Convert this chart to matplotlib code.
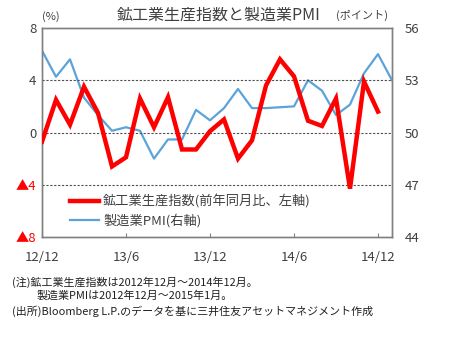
import matplotlib
matplotlib.use("Agg")
import matplotlib.pyplot as plt

plt.rcParams['font.family'] = ['Noto Sans CJK JP', 'DejaVu Sans']

# Monthly data, Dec 2012 onwards
months = list(range(26))
tick_pos = [0, 6, 12, 18, 24]
tick_labels = ["12/12", "13/6", "13/12", "14/6", "14/12"]

# Industrial production, y/y % (Dec 2012 - Dec 2014)
ip_yoy = [-0.7, 2.5, 0.6, 3.5, 1.5, -2.6, -1.9, 2.6, 0.4, 2.7, -1.3, -1.3,
          0.1, 1.0, -2.0, -0.6, 3.6, 5.6, 4.3, 0.9, 0.5, 2.6, -4.3, 3.9, 1.6]
# Manufacturing PMI, points (Dec 2012 - Jan 2015)
pmi = [54.7, 53.2, 54.2, 52.0, 51.0, 50.1, 50.3, 50.1, 48.5, 49.6, 49.6, 51.3,
       50.7, 51.4, 52.5, 51.4, 51.4, 51.45, 51.5, 53.0, 52.4, 51.0, 51.6, 53.4,
       54.5, 53.0]

left_ticks = [8, 4, 0, -4, -8]
left_tick_labels = ["8", "4", "0", "▲4", "▲8"]
right_ticks = [56, 53, 50, 47, 44]

txt = "#404040"
fig = plt.figure(figsize=(4.5, 3.37), dpi=100)
ax = fig.add_axes([42/450, 100/337, 350/450, 209/337])
ax2 = ax.twinx()

ax.set_xlim(0, 25)
ax.set_ylim(-8, 8)
ax2.set_ylim(44, 56)

for y in [4, 0, -4]:
    ax.axhline(y, color="#505050", lw=0.8, ls=(0, (2, 1.5)), zorder=1)

l1, = ax.plot(months[:len(ip_yoy)], ip_yoy, color="#ff0000", lw=3.2,
              solid_joinstyle="miter", zorder=3, label="鉱工業生産指数(前年同月比、左軸)")
l2, = ax2.plot(months[:len(pmi)], pmi, color="#5ba3da", lw=1.6, zorder=2,
               label="製造業PMI(右軸)")
ax.set_zorder(ax2.get_zorder() + 1)
ax.patch.set_visible(False)

ax.set_yticks(left_ticks)
ax.set_yticklabels(left_tick_labels, fontsize=9.5)
for lab, v in zip(ax.get_yticklabels(), left_ticks):
    lab.set_color("#ff0000" if v < 0 else txt)
ax.tick_params(axis="y", length=0, pad=4)

ax2.set_yticks(right_ticks)
ax2.set_yticklabels([str(v) for v in right_ticks], fontsize=9.5, color=txt)
ax2.tick_params(axis="y", length=0, pad=9)

ax.set_xticks(tick_pos)
ax.set_xticklabels(tick_labels, fontsize=9.5, color=txt)
ax.tick_params(axis="x", direction="in", length=3, color="#808080", pad=10)

for a in (ax, ax2):
    for s in a.spines.values():
        s.set_color("#808080")
        s.set_linewidth(1.0)

leg = ax.legend(handles=[l1, l2], loc="lower left", bbox_to_anchor=(0.065, 0.02),
                frameon=False, fontsize=9.5, handlelength=2.2, handletextpad=0.3,
                labelspacing=0.4, borderaxespad=0)
for t in leg.get_texts():
    t.set_color(txt)

fig.text(219/450, 1 - 15/337, "鉱工業生産指数と製造業PMI", ha="center", va="center",
         fontsize=11.5, color=txt)
fig.text(42/450, 1 - 17/337, "(%)", ha="left", va="center", fontsize=8, color=txt)
fig.text(388/450, 1 - 15/337, "(ポイント)", ha="right", va="center", fontsize=8, color=txt)

notes = [
    (12, 282, "(注)鉱工業生産指数は2012年12月～2014年12月。"),
    (37, 296, "製造業PMIは2012年12月～2015年1月。"),
    (12, 311, "(出所)Bloomberg L.P.のデータを基に三井住友アセットマネジメント作成"),
]
for x, y, s in notes:
    fig.text(x/450, 1 - y/337, s, ha="left", va="center", fontsize=7.9, color="#202020")

fig.savefig("out.png", dpi=100)
